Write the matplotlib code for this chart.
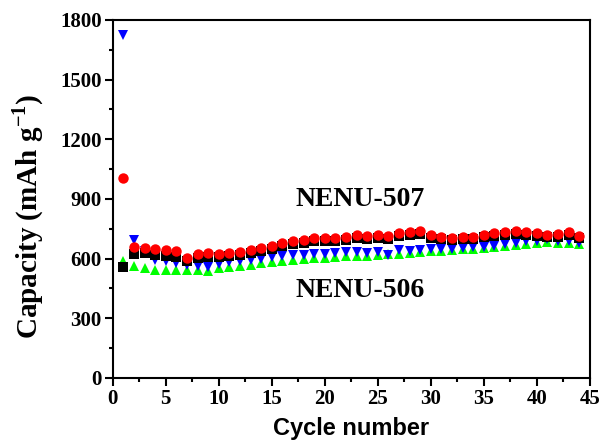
import numpy as np
import matplotlib.pyplot as plt

plt.rcParams['mathtext.fontset'] = 'custom'
plt.rcParams['mathtext.rm'] = 'Liberation Serif:bold'
plt.rcParams['mathtext.bf'] = 'Liberation Serif:bold'

cycles = list(range(1, 45))
# NENU-507
cap_507_black = [560, 625, 630, 620, 615, 610, 590, 605, 610, 610, 615, 620, 630, 640, 650, 665, 675, 680, 690, 690,
                 690, 695, 705, 700, 705, 700, 715, 720, 725, 705, 700, 695, 700, 700, 710, 715, 720, 725, 720, 715,
                 710, 710, 720, 705]
cap_507_red = [1005, 660, 655, 650, 645, 640, 605, 625, 630, 625, 630, 635, 645, 655, 665, 680, 690, 695, 705, 705,
               705, 710, 720, 715, 720, 715, 730, 735, 740, 720, 710, 705, 710, 710, 720, 730, 735, 740, 735, 730,
               720, 725, 735, 715]
# NENU-506
cap_506_blue = [1725, 695, 640, 595, 590, 580, 570, 565, 560, 575, 585, 590, 595, 600, 610, 615, 620, 620, 625, 625,
                630, 635, 635, 630, 635, 620, 645, 640, 645, 650, 650, 650, 655, 660, 660, 665, 675, 680, 690, 690,
                700, 690, 690, 680]
cap_506_green = [590, 565, 555, 545, 545, 545, 545, 545, 540, 555, 560, 565, 570, 580, 585, 590, 595, 600, 605, 605,
                 610, 615, 615, 615, 620, 625, 625, 630, 635, 640, 640, 645, 650, 650, 655, 660, 665, 670, 675, 680,
                 685, 680, 680, 675]

fig = plt.figure(figsize=(6.03, 4.41), dpi=100)
ax = fig.add_axes([0.187, 0.143, 0.791, 0.812])

ax.plot(cycles, cap_506_green, '^', color='#00ff00', markersize=7.5, markeredgewidth=0)
ax.plot(cycles, cap_506_blue, 'v', color='#0000ff', markersize=7.5, markeredgewidth=0)
ax.plot(cycles, cap_507_black, 's', color='black', markersize=6.5, markeredgewidth=0)
ax.plot(cycles, cap_507_red, 'o', color='#ff0000', markersize=7.5, markeredgewidth=0)

ax.text(23.3, 895, "NENU-507", fontfamily="Liberation Serif", fontweight="bold", fontsize=20, ha="center", va="center")
ax.text(23.3, 442, "NENU-506", fontfamily="Liberation Serif", fontweight="bold", fontsize=20, ha="center", va="center")

ax.set_xlim(0, 45)
ax.set_ylim(0, 1800)
ax.set_xticks(range(0, 46, 5))
ax.set_xticks(np.arange(2.5, 45, 5), minor=True)
ax.set_yticks(range(0, 1801, 300))
ax.set_yticks(range(150, 1800, 300), minor=True)
ax.tick_params(which="major", direction="out", length=6, width=1.5, pad=2)
ax.tick_params(which="minor", direction="out", length=3, width=1.5)
for lab in ax.get_xticklabels() + ax.get_yticklabels():
    lab.set_fontfamily("Liberation Serif")
    lab.set_fontweight("bold")
    lab.set_fontsize(15)
for sp in ax.spines.values():
    sp.set_linewidth(1.5)

ax.set_xlabel("Cycle number", fontfamily="Liberation Sans", fontweight="bold", fontsize=17)
ax.xaxis.set_label_coords(0.5, -0.11)
ax.set_ylabel(r"Capacity (mAh g$^{\mathbf{-1}}$)", fontfamily="Liberation Serif", fontweight="bold", fontsize=21)
ax.yaxis.set_label_coords(-0.14, 0.45)

fig.savefig("out.png", dpi=100)
